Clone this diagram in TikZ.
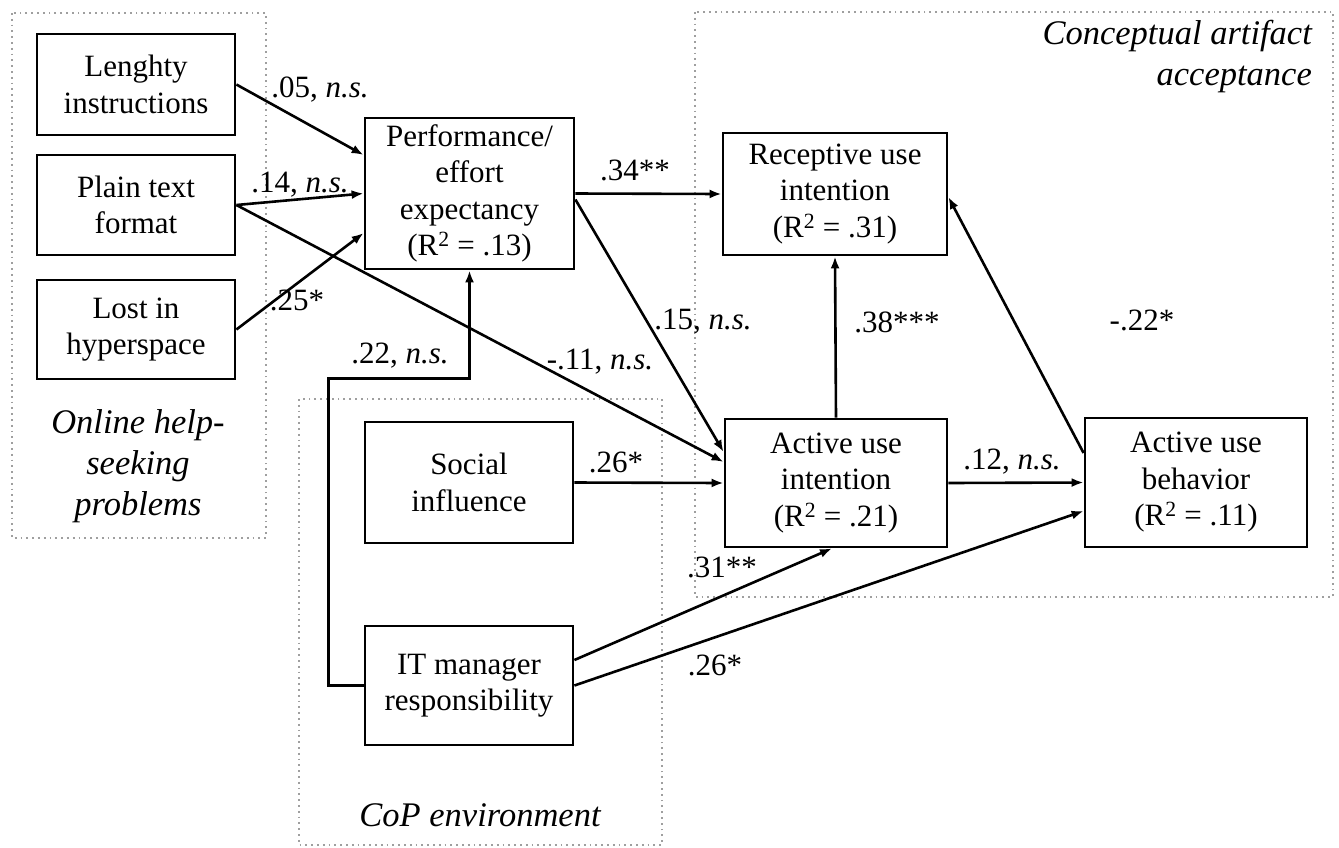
\documentclass[tikz,border=0pt]{standalone}
\usepackage{fontspec}
\setmainfont{Liberation Serif}
\usetikzlibrary{arrows.meta,calc}
\begin{document}
\begin{tikzpicture}[x=1pt,y=-1pt,
 box/.style={draw, line width=2.8pt, fill=white, align=center, inner sep=0pt, font=\fontsize{31}{36.5}\selectfont},
 lbl/.style={font=\fontsize{31}{36.5}\selectfont, inner sep=0pt},
 grp/.style={draw=gray!75, line width=1.6pt, dash pattern=on 1.8pt off 4pt},
 glbl/.style={font=\fontsize{34.5}{41}\selectfont\itshape, inner sep=0pt},
 arr/.style={line width=2.6pt, -{Latex[length=12pt,width=9pt]}},
]
\useasboundingbox (0,0) rectangle (1339,847);

% groups
\draw[grp] (12,13) rectangle (266,538);
\draw[grp] (299,399) rectangle (662,845);
\draw[grp] (695,12) rectangle (1333,597);

\node[glbl, align=center] (g1) at (138,466) {Online help-\\seeking\\problems};
\node[glbl] (g2) at (480,815) {CoP environment};
\node[glbl, align=right, anchor=north east] (g3) at (1312,20) {Conceptual artifact\\acceptance};

% nodes
\node[box, minimum width=198pt, minimum height=101pt] (L) at (136,84.5) {Lenghty\\instructions};
\node[box, minimum width=198pt, minimum height=100pt] (P) at (136,205) {Plain text\\format};
\node[box, minimum width=198pt, minimum height=99pt] (H) at (136,329.5) {Lost in\\hyperspace};
\node[box, minimum width=209pt, minimum height=151pt] (PE) at (469.5,193.5) {Performance/\\effort\\expectancy\\(R\textsuperscript{2} = .13)};
\node[box, minimum width=224pt, minimum height=122pt] (R) at (835,194) {Receptive use\\intention\\(R\textsuperscript{2} = .31)};
\node[box, minimum width=222pt, minimum height=128pt] (AI) at (836,483) {Active use\\intention\\(R\textsuperscript{2} = .21)};
\node[box, minimum width=222pt, minimum height=129pt] (AB) at (1196,482.5) {Active use\\behavior\\(R\textsuperscript{2} = .11)};
\node[box, minimum width=208pt, minimum height=121pt] (S) at (469,482.5) {Social\\influence};
\node[box, minimum width=208pt, minimum height=119pt] (IT) at (469,685.5) {IT manager\\responsibility};

% connectors
\draw[arr] (L.east) -- ($(PE.west)+(0,-38.5)$);
\draw[arr] (P.east) -- (PE.west);
\draw[arr] (H.east) -- ($(PE.west)+(0,39.5)$);
\draw[arr] (P.east) -- ($(AI.west)+(0,-21)$);
\draw[arr] (PE.east) -- (R.west);
\draw[arr] ($(PE.east)+(0,6)$) -- ($(AI.west)+(0,-31)$);
\draw[arr] (AI.north) -- (R.south);
\draw[arr] ($(AB.west)+(0,-29.5)$) -- ($(R.east)+(0,3)$);
\draw[arr] (AI.east) -- (AB.west);
\draw[arr] (S.east) -- (AI.west);
\draw[arr] ($(IT.east)+(0,-25.5)$) -- ($(AI.south)+(-4,0)$);
\draw[arr] (IT.east) -- ($(AB.west)+(0,28.5)$);
\coordinate (elb) at ($(PE.south)+(0,108)$);
\draw[arr] (IT.west) -- ++(-35,0) |- (elb) -- (PE.south);

% labels
\node[lbl] (l1) at (320,90) {.05, \textit{n.s.}};
\node[lbl] (l2) at (300,185) {.14, \textit{n.s.}};
\node[lbl] (l3) at (297,300) {.25*};
\node[lbl] (l4) at (635,170) {.34**};
\node[lbl] (l5) at (400,356) {.22, \textit{n.s.}};
\node[lbl] (l6) at (703,322) {.15, \textit{n.s.}};
\node[lbl] (l7) at (600,362) {-.11, \textit{n.s.}};
\node[lbl] (l8) at (897,322) {.38***};
\node[lbl] (l9) at (1142,320) {-.22*};
\node[lbl] (l10) at (616,462) {.26*};
\node[lbl] (l11) at (1012,462) {.12, \textit{n.s.}};
\node[lbl] (l12) at (722,567) {.31**};
\node[lbl] (l13) at (715,665) {.26*};
\end{tikzpicture}
\end{document}
